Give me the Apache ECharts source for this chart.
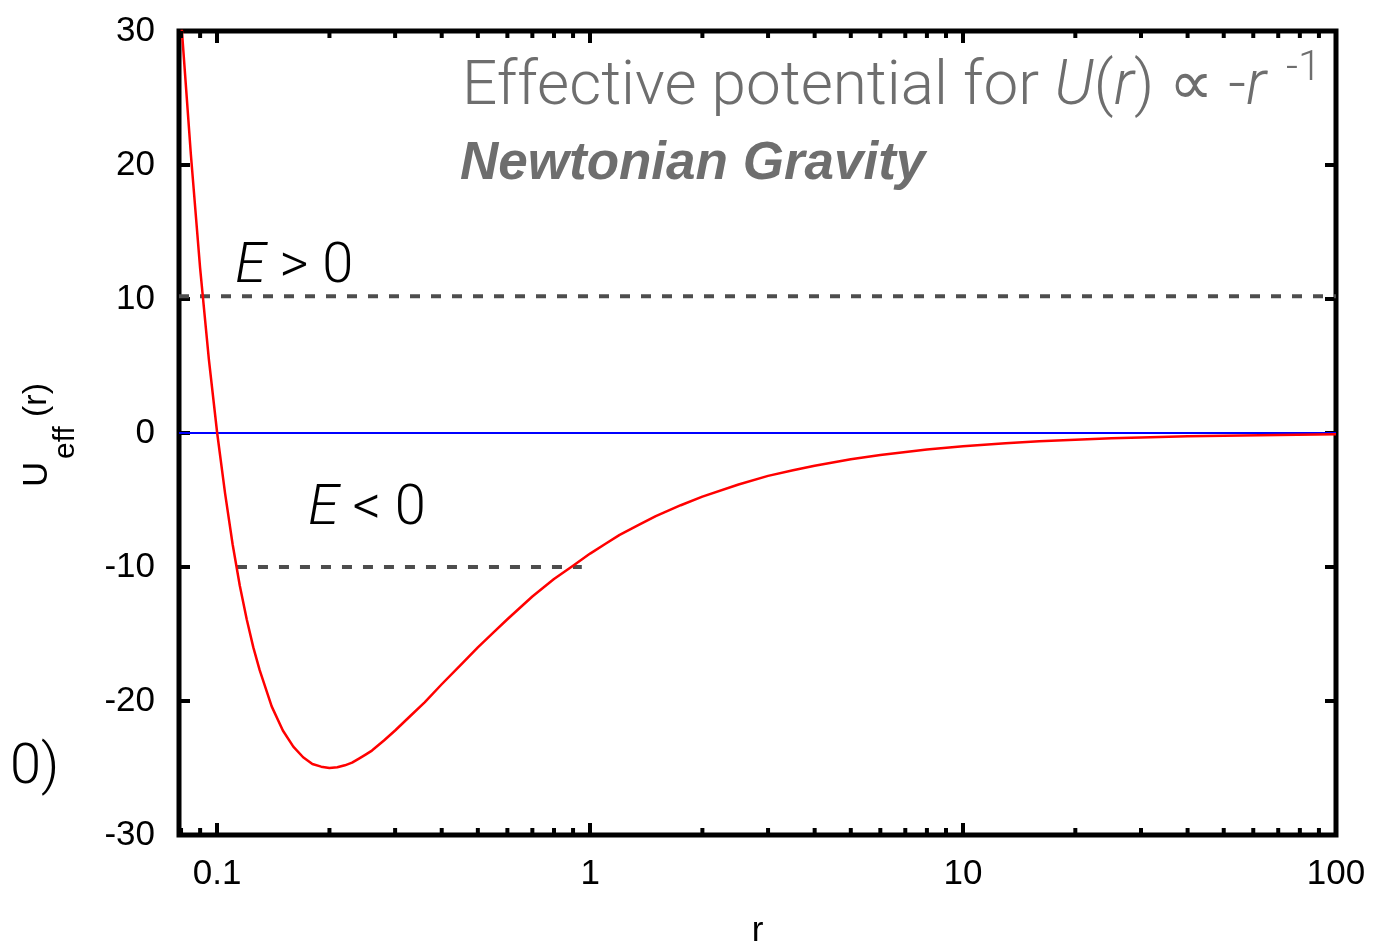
<!DOCTYPE html>
<html><head><meta charset="utf-8">
<script src="https://cdn.jsdelivr.net/npm/echarts@6/dist/echarts.min.js"></script>
<style>html,body{margin:0;padding:0;background:#fff}#c{width:1378px;height:941px}</style>
</head><body><div id="c"></div>
<script>
// r values and effective potential
const rValues = [0.079,0.082,0.085,0.09,0.095,0.1,0.105,0.11,0.115,0.12,0.125,0.13,0.14,0.15,0.16,0.17,0.18,0.19,0.2,0.21,0.22,0.23,0.24,0.25,0.26,0.28,0.3,0.33,0.36,0.4,0.45,0.5,0.55,0.6,0.7,0.8,0.9,1,1.1,1.2,1.35,1.5,1.75,2,2.5,3,3.5,4,5,6,8,10,13,16,20,25,30,40,50,70,100];
const uValues = [33,26.8,20.8,12.3,5.5,0,-4.5,-8.3,-11.4,-13.9,-16,-17.7,-20.4,-22.2,-23.4,-24.2,-24.7,-24.9,-25,-24.95,-24.8,-24.6,-24.3,-24,-23.7,-22.95,-22.2,-21.1,-20.1,-18.75,-17.3,-16,-14.9,-13.9,-12.2,-10.9,-9.9,-9,-8.26,-7.6,-6.86,-6.2,-5.39,-4.75,-3.84,-3.2,-2.78,-2.44,-1.96,-1.64,-1.23,-0.99,-0.76,-0.62,-0.5,-0.4,-0.33,-0.25,-0.2,-0.14,-0.1];
const zeroLine = [[0.079,0],[100,0]];
const ePositive = [[0.079,10.2],[100,10.2]];
const eNegative = [[0.113,-10],[0.95,-10]];
const xTickLabels = ['0.1','1','10','100'];
const yTickLabels = ['-30','-20','-10','0','10','20','30'];
const xMinorTicks = [0.08,0.09,0.2,0.3,0.4,0.5,0.6,0.7,0.8,0.9,2,3,4,5,6,7,8,9,20,30,40,50,60,70,80,90];

const X_MIN = 0.079, X_MAX = 100, Y_MIN = -30, Y_MAX = 30;
const chart = echarts.init(document.getElementById('c'), null, {renderer:'canvas'});
const SANS = 'Liberation Sans, Arial, sans-serif';
const tickFont = {fontFamily:SANS, fontSize:35, color:'#000'};
function xFmt(v){
  const s = String(parseFloat(Number(v).toPrecision(6)));
  return xTickLabels.includes(s) ? s : '';
}
function yFmt(v){ const s=String(v); return yTickLabels.includes(s)?s:''; }
const lightFont = 'Roboto, Lato, sans-serif';

chart.setOption({
  animation:false,
  grid:{left:179,right:42,top:31,bottom:106,containLabel:false,outerBoundsMode:'none',
        show:true,borderColor:'#000',borderWidth:5,backgroundColor:'transparent'},
  xAxis:[
    {type:'log',logBase:10,min:X_MIN,max:X_MAX,position:'bottom',
     axisLine:{show:false,onZero:false},splitLine:{show:false},
     axisTick:{show:true,inside:true,length:12,lineStyle:{color:'#000',width:4}},
     axisLabel:Object.assign({formatter:xFmt,margin:22},tickFont),
     name:'r',nameLocation:'middle',nameGap:79,nameTextStyle:{fontFamily:SANS,fontSize:35,color:'#000',verticalAlign:'top'}},
    {type:'log',logBase:10,min:X_MIN,max:X_MAX,position:'top',
     axisLine:{show:false,onZero:false},splitLine:{show:false},
     axisTick:{show:true,inside:true,length:12,lineStyle:{color:'#000',width:4}},
     axisLabel:{show:false}}
  ],
  yAxis:[
    {type:'value',min:Y_MIN,max:Y_MAX,interval:10,position:'left',
     axisLine:{show:false,onZero:false},splitLine:{show:false},
     axisTick:{show:true,inside:true,length:11,lineStyle:{color:'#000',width:4}},
     axisLabel:Object.assign({formatter:yFmt,margin:24},tickFont)},
    {type:'value',min:Y_MIN,max:Y_MAX,interval:10,position:'right',
     axisLine:{show:false,onZero:false},splitLine:{show:false},
     axisTick:{show:true,inside:true,length:11,lineStyle:{color:'#000',width:4}},
     axisLabel:{show:false}}
  ],
  series:[
    {type:'line',data:zeroLine,showSymbol:false,symbol:'none',lineStyle:{color:'#0000ff',width:2},z:2},
    {type:'line',data:ePositive,symbol:'none',lineStyle:{color:'#4d4d4d',width:4,type:[10,11]},z:3},
    {type:'line',data:eNegative,symbol:'none',lineStyle:{color:'#4d4d4d',width:4,type:[10,11]},z:3},
    {type:'line',data:rValues.map((r,i)=>[r,uValues[i]]),symbol:'none',smooth:false,clip:true,
     lineStyle:{color:'#ff0000',width:2.5,join:'round'},z:4},
    {type:'custom',data:xMinorTicks.map(v=>[v,0]),z:5,silent:true,
     renderItem:function(params,api){
       const v=api.value(0);
       const pb=api.coord([v,Y_MIN]); const pt=api.coord([v,Y_MAX]);
       return {type:'group',children:[
         {type:'line',shape:{x1:pb[0],y1:pb[1],x2:pb[0],y2:pb[1]-7},style:{stroke:'#000',lineWidth:4}},
         {type:'line',shape:{x1:pt[0],y1:pt[1],x2:pt[0],y2:pt[1]+7},style:{stroke:'#000',lineWidth:4}}
       ]};
     }}
  ],
  graphic:[
    {type:'text',left:462,top:57,z:10,style:{
      text:'{n|Effective potential for }{i|U}{n|(}{i|r}{n|) ∝ -}{i|r}',
      rich:{n:{fontFamily:lightFont,fontWeight:300,fontSize:62,fill:'#6e6e6e'},
            i:{fontFamily:lightFont,fontWeight:300,fontStyle:'italic',fontSize:62,fill:'#6e6e6e'}}}},
    {type:'text',left:1286,top:48,z:10,style:{text:'-1',fontFamily:lightFont,fontWeight:300,fontSize:42,fill:'#6e6e6e'}},
    {type:'text',left:460,top:138,z:10,style:{text:'Newtonian Gravity',fontFamily:SANS,fontWeight:'bold',fontStyle:'italic',fontSize:53,fill:'#6e6e6e'}},
    {type:'text',left:235,top:240,z:10,style:{
      text:'{i|E}{n| > 0}',
      rich:{n:{fontFamily:lightFont,fontWeight:300,fontSize:56,fill:'#000'},
            i:{fontFamily:lightFont,fontWeight:300,fontStyle:'italic',fontSize:56,fill:'#000'}}}},
    {type:'text',left:308,top:482,z:10,style:{
      text:'{i|E}{n| < 0}',
      rich:{n:{fontFamily:lightFont,fontWeight:300,fontSize:56,fill:'#000'},
            i:{fontFamily:lightFont,fontWeight:300,fontStyle:'italic',fontSize:56,fill:'#000'}}}},
    {type:'text',left:10,top:741,z:10,style:{text:'0)',fontFamily:lightFont,fontWeight:300,fontSize:56,fill:'#000'}},
    {type:'group',x:37,y:487,rotation:Math.PI/2,children:[
      {type:'text',x:0,y:0,style:{text:'U',fontFamily:SANS,fontSize:35,fill:'#000',verticalAlign:'middle'}},
      {type:'text',x:28,y:29,style:{text:'eff',fontFamily:SANS,fontSize:30,fill:'#000',verticalAlign:'middle'}},
      {type:'text',x:70,y:0,style:{text:'(r)',fontFamily:SANS,fontSize:34,fill:'#000',verticalAlign:'middle'}}
    ]}
  ]
});
</script></body></html>
